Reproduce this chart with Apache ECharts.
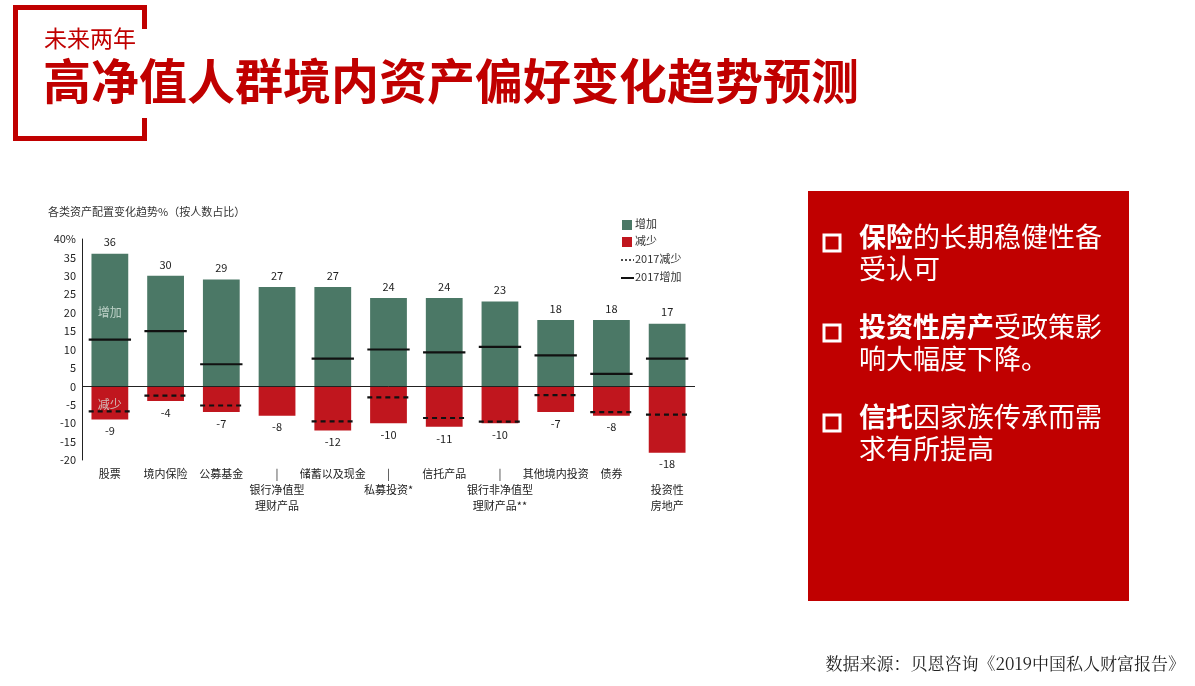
<!DOCTYPE html>
<html><head><meta charset="utf-8">
<script src="https://cdn.jsdelivr.net/npm/echarts@6/dist/echarts.min.js"></script>
<style>html,body{margin:0;padding:0;background:#fff}#c{width:1195px;height:686px}</style>
</head><body><div id="c"></div>
<script>
const categories = ['股票','境内保险','公募基金','银行净值型\n理财产品','储蓄以及现金','私募投资*','信托产品','银行非净值型\n理财产品**','其他境内投资','债券','投资性\n房地产'];
const lowerLabel = [false,false,false,true,false,true,false,true,false,false,true];
const separator = [false,false,false,true,false,true,false,true,false,false,false];
const increase = [36,30,29,27,27,24,24,23,18,18,17];
const decrease = [-9,-4,-7,-8,-12,-10,-11,-10,-7,-8,-18];
const inc2017 = [12.7,15,6,null,7.5,10,9.2,10.7,8.4,3.4,7.5];
const dec2017 = [-6.8,-2.5,-5.2,null,-9.5,-3,-8.6,-9.6,-2.4,-7,-7.7];

const GREEN='#4b7866', RED='#c0161e', BRAND='#c00000';
function lineSeries(data, dashed){
  return {type:'custom', z:5, data:data.map((v,i)=>[i,v]).filter(d=>d[1]!=null),
    renderItem:(p,api)=>{const pt=api.coord([api.value(0),api.value(1)]);const w=api.size([1,0])[0]*0.76;
      return {type:'line',shape:{x1:pt[0]-w/2,y1:pt[1],x2:pt[0]+w/2,y2:pt[1]},
        style:{stroke:'#111',lineWidth:2.2,lineDash:dashed?[5,4]:null}};}};
}
const chart = echarts.init(document.getElementById('c'));
const frameW=5;
chart.setOption({
  animation:false,
  textStyle:{fontFamily:'Noto Sans CJK SC'},
  grid:{left:82,right:500,top:239,bottom:226},
  xAxis:{type:'category',data:categories,axisLine:{show:false},axisTick:{show:false},
    axisLabel:{interval:0,margin:6,color:'#222',fontSize:11,lineHeight:16,
      formatter:(v,i)=>lowerLabel[i]?(separator[i]?'|':'')+'\n'+v:v}},
  yAxis:{type:'value',min:-20,max:40,interval:5,splitLine:{show:false},
    axisLine:{show:true,lineStyle:{color:'#222'}},axisTick:{show:false},
    axisLabel:{color:'#222',fontSize:11,margin:6,formatter:v=>v===40?'40%':String(v)}},
  series:[
    {type:'bar',stack:'a',data:increase,barWidth:'66%',itemStyle:{color:GREEN},
      label:{show:true,position:'top',color:'#222',fontSize:11,distance:6},
      markLine:{silent:true,symbol:'none',label:{show:false},lineStyle:{color:'#222',width:1,type:'solid'},data:[{yAxis:0}]}},
    {type:'bar',stack:'b',data:decrease,barWidth:'66%',barGap:'-100%',itemStyle:{color:RED},
      label:{show:true,position:'bottom',color:'#222',fontSize:11,distance:6}},
    lineSeries(inc2017,false),
    lineSeries(dec2017,true),
    {type:'scatter',symbolSize:0,z:6,data:[[0,20],[0,-5]],
      label:{show:true,position:'inside',color:'#d8e6df',fontSize:12,formatter:p=>p.dataIndex===0?'增加':'减少'}}
  ],
  graphic:[
    {type:'rect',shape:{x:13,y:5,width:134,height:frameW},style:{fill:BRAND}},
    {type:'rect',shape:{x:13,y:5,width:frameW,height:136},style:{fill:BRAND}},
    {type:'rect',shape:{x:13,y:136,width:134,height:frameW},style:{fill:BRAND}},
    {type:'rect',shape:{x:142,y:5,width:frameW,height:24},style:{fill:BRAND}},
    {type:'rect',shape:{x:142,y:118,width:frameW,height:23},style:{fill:BRAND}},
    {type:'text',left:44,top:27,style:{text:'未来两年',fill:BRAND,font:'23px "Noto Sans CJK SC"'}},
    {type:'text',left:43,top:57,style:{text:'高净值人群境内资产偏好变化趋势预测',fill:BRAND,font:'bold 48px "Noto Sans CJK SC"'}},
    {type:'text',left:48,top:206,style:{text:'各类资产配置变化趋势%（按人数占比）',fill:'#333',font:'11px "Noto Sans CJK SC"'}},
    {type:'rect',shape:{x:622,y:220,width:10,height:10},style:{fill:GREEN}},
    {type:'text',left:635,top:218,style:{text:'增加',fill:'#333',font:'11px "Noto Sans CJK SC"'}},
    {type:'rect',shape:{x:622,y:237,width:10,height:10},style:{fill:RED}},
    {type:'text',left:635,top:235,style:{text:'减少',fill:'#333',font:'11px "Noto Sans CJK SC"'}},
    {type:'line',shape:{x1:621,y1:260,x2:634,y2:260},style:{stroke:'#111',lineWidth:1.5,lineDash:[2,2]}},
    {type:'text',left:635,top:253,style:{text:'2017减少',fill:'#333',font:'11px "Noto Sans CJK SC"'}},
    {type:'line',shape:{x1:621,y1:278,x2:634,y2:278},style:{stroke:'#111',lineWidth:2}},
    {type:'text',left:635,top:271,style:{text:'2017增加',fill:'#333',font:'11px "Noto Sans CJK SC"'}},
    {type:'rect',shape:{x:808,y:191,width:321,height:410},style:{fill:BRAND}},
    ...[[230,'保险','的长期稳健性备','受认可'],[320,'投资性房产','受政策影','响大幅度下降。'],[410,'信托','因家族传承而需','求有所提高']].flatMap(r=>[
      {type:'rect',shape:{x:824,y:r[0]+5,width:16,height:16},style:{fill:'none',stroke:'#fff',lineWidth:3}},
      {type:'text',left:859,top:r[0]-7,style:{text:'{b|'+r[1]+'}{n|'+r[2]+'}\n{n|'+r[3]+'}',
        rich:{b:{fill:'#fff',font:'bold 27px "Noto Sans CJK SC"',lineHeight:32},n:{fill:'#fff',font:'27px "Noto Sans CJK SC"',lineHeight:32}}}}
    ]),
    {type:'text',right:10,top:655,style:{text:'数据来源：贝恩咨询《2019中国私人财富报告》',fill:'#222',font:'17px "Noto Serif CJK SC","Noto Sans CJK SC"'}}
  ]
});
</script></body></html>
